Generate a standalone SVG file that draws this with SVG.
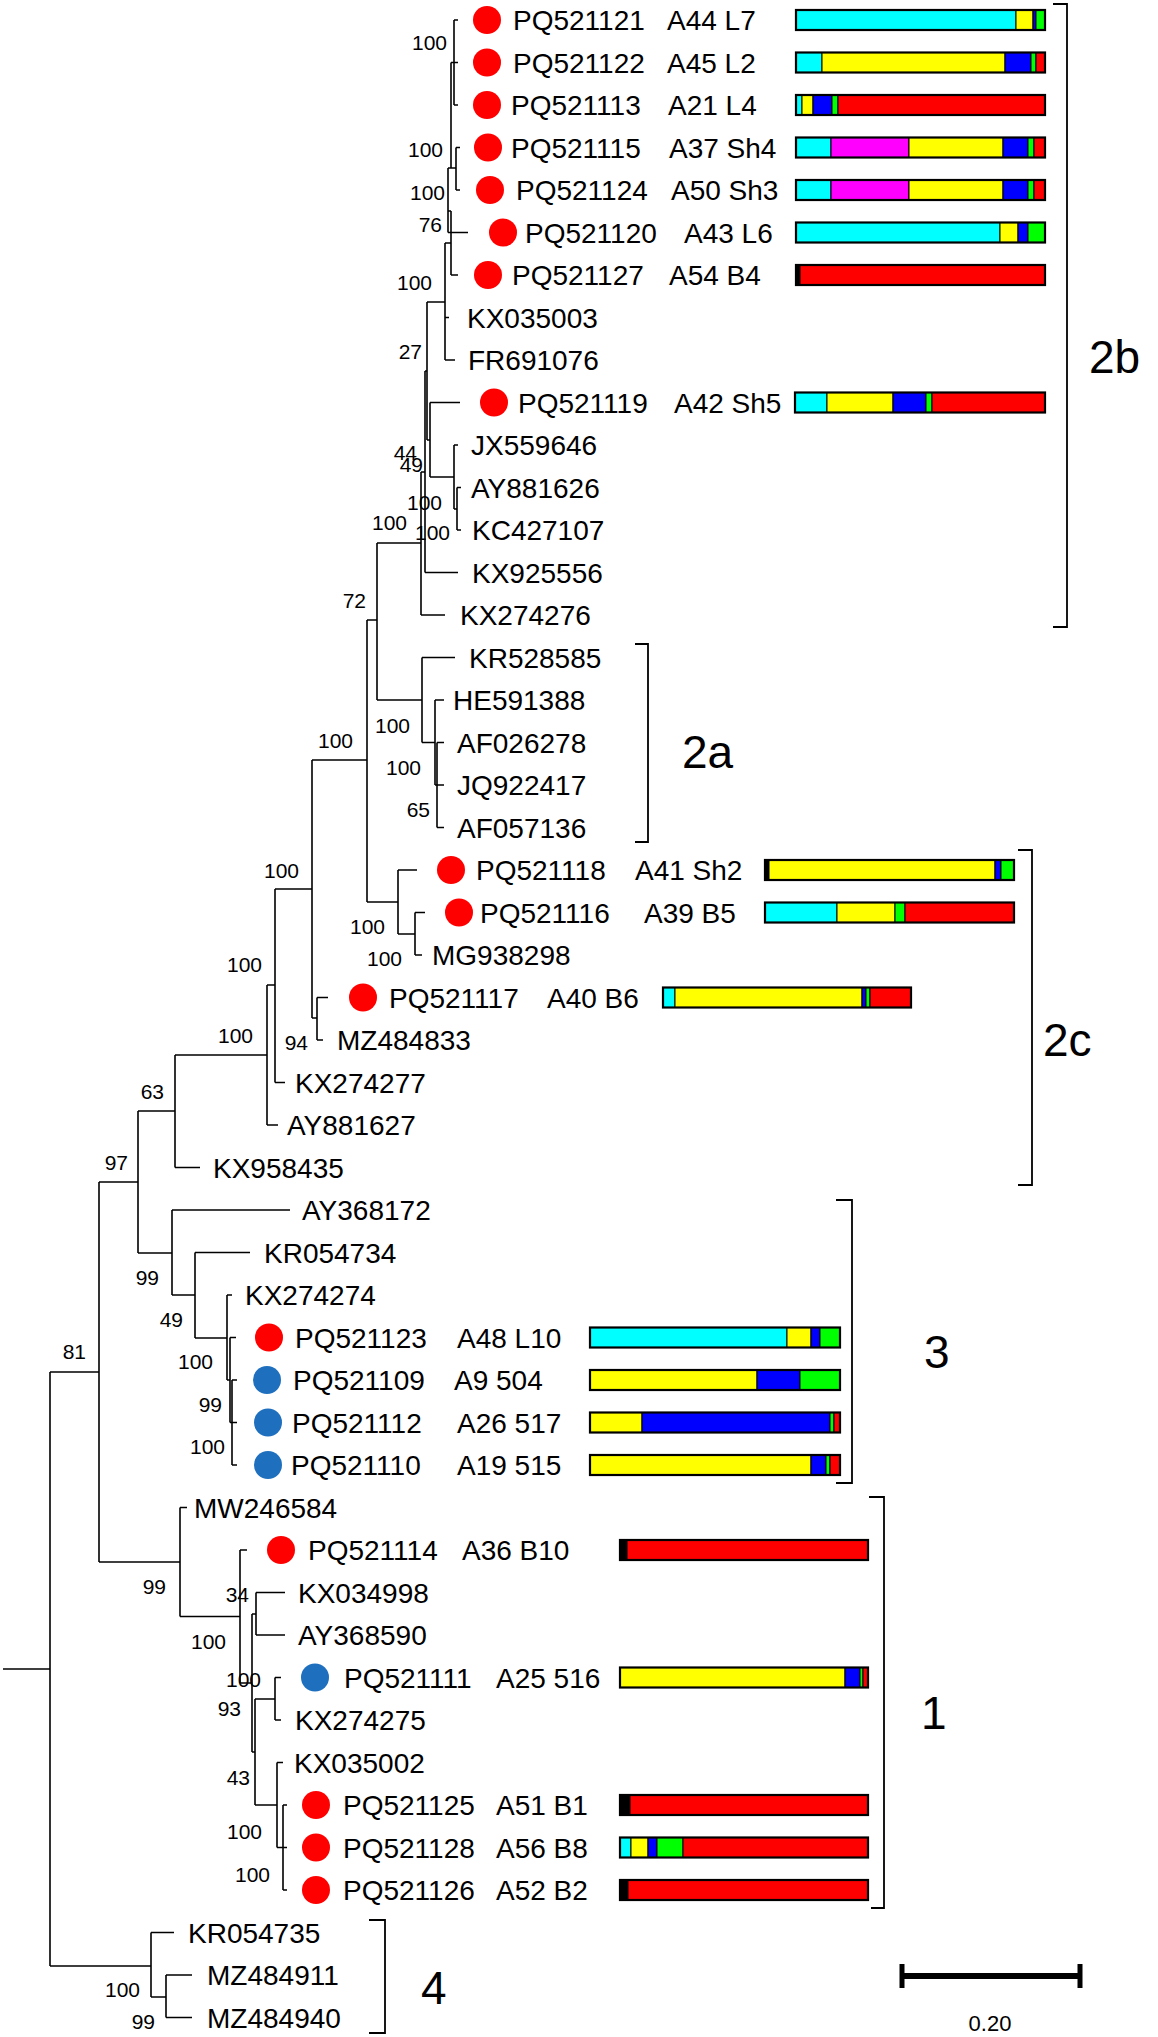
<svg xmlns="http://www.w3.org/2000/svg" width="1158" height="2037" viewBox="0 0 1158 2037">
<style>
text{font-family:"Liberation Sans",Arial,sans-serif;fill:#000}
.t{font-size:28px}
.s{font-size:21px;text-anchor:end}
.c{font-size:46px}
.sc{font-size:22px;text-anchor:middle}
.br{stroke:#000;stroke-width:1.6;fill:none}
.bk2{stroke:#000;stroke-width:1.8;fill:none}
.rdot{fill:#FF0000}
.bdot{fill:#1F6FBF}
.bar rect{stroke:#000;stroke-width:1}
.bar rect.out{fill:none;stroke-width:2.2}
.cy{fill:#00FFFF}.ye{fill:#FFFF00}.bl{fill:#0000FF}.gr{fill:#00FF00}.rd{fill:#FF0000}.mg{fill:#FF00FF}.bk{fill:#000}
</style>
<rect width="1158" height="2037" fill="#fff"/>
<g id="connectors" class="br">
<path d="M3 1669H50M50 1372V1966M50 1372H99M50 1966H151"/>
<path d="M99 1182V1562M99 1182H138M99 1562H180"/>
<path d="M138 1111V1253M138 1111H175M138 1253H172"/>
<path d="M175 1055V1167.5M175 1055H267M175 1167.5H200"/>
<path d="M267 985V1125M267 985H275M267 1125H278"/>
<path d="M275 889V1082.5M275 889H312M275 1082.5H285"/>
<path d="M312 760V1018M312 760H367M312 1018H317"/>
<path d="M317 997.5V1040M317 997.5H328M317 1040H323"/>
<path d="M367 620V902M367 620H377M367 902H398"/>
<path d="M398 870V934M398 870H417M398 934H415"/>
<path d="M415 912.5V955M415 912.5H425M415 955H422"/>
<path d="M377 543V700M377 543H421M377 700H422"/>
<path d="M422 657.5V742.5M422 657.5H455M422 742.5H435"/>
<path d="M435 700V785M435 700H444M435 785H437"/>
<path d="M437 742.5V827.5M437 742.5H444M437 785H444M437 827.5H444"/>
<path d="M421 472V615M421 472H425M421 615H445"/>
<path d="M425 371V572.5M425 371H427M425 572.5H458"/>
<path d="M427 302V440M427 302H445M427 440H430"/>
<path d="M430 402.5V477M430 402.5H460M430 477H454"/>
<path d="M454 445V509M454 445H458M454 509H457"/>
<path d="M457 487.5V530M457 487.5H461M457 530H461"/>
<path d="M445 243V360M445 243H451M445 317.5H449M445 360H455"/>
<path d="M451 211V275M448 211H451M451 275H458"/>
<path d="M448 168V232.5M448 168H456M448 232.5H468"/>
<path d="M456 147.5V190M456 147.5H460M456 190H460"/>
<path d="M451 62.5V168M451 62.5H454"/>
<path d="M454 20V105M454 20H458M454 62.5H458M454 105H458"/>
<path d="M172 1210V1295M172 1210H290M172 1295H195"/>
<path d="M195 1252.5V1338M195 1252.5H250M195 1338H227"/>
<path d="M227 1295V1380M227 1295H232M227 1380H230"/>
<path d="M230 1337.5V1422.5M230 1337.5H236M230 1422.5H232"/>
<path d="M232 1380V1465M232 1380H237M232 1422.5H237M232 1465H237"/>
<path d="M180 1507.5V1616.5M180 1507.5H187M180 1616.5H240"/>
<path d="M240 1550V1683M240 1550H247M240 1683H252"/>
<path d="M252 1614V1752M252 1614H256M252 1752H255"/>
<path d="M256 1592.5V1635M256 1592.5H285M256 1635H285"/>
<path d="M255 1699V1805M255 1699H275M255 1805H277"/>
<path d="M275 1677.5V1720M275 1677.5H281M275 1720H281"/>
<path d="M277 1762.5V1847.5M277 1762.5H283M277 1847.5H283"/>
<path d="M283 1805V1890M283 1805H287M283 1847.5H287M283 1890H287"/>
<path d="M151 1932.5V1997M151 1932.5H174M151 1997H166"/>
<path d="M166 1975V2017.5M166 1975H192M166 2017.5H192"/>
</g>
<g id="support-values">
<text class="s" x="447" y="50">100</text>
<text class="s" x="443" y="157">100</text>
<text class="s" x="445" y="200">100</text>
<text class="s" x="442" y="232">76</text>
<text class="s" x="432" y="290">100</text>
<text class="s" x="422" y="359">27</text>
<text class="s" x="417" y="460">44</text>
<text class="s" x="423" y="472">49</text>
<text class="s" x="442" y="510">100</text>
<text class="s" x="407" y="530">100</text>
<text class="s" x="450" y="540">100</text>
<text class="s" x="366" y="608">72</text>
<text class="s" x="410" y="733">100</text>
<text class="s" x="421" y="775">100</text>
<text class="s" x="430" y="817">65</text>
<text class="s" x="353" y="748">100</text>
<text class="s" x="385" y="934">100</text>
<text class="s" x="402" y="966">100</text>
<text class="s" x="299" y="878">100</text>
<text class="s" x="308" y="1050">94</text>
<text class="s" x="262" y="972">100</text>
<text class="s" x="253" y="1043">100</text>
<text class="s" x="164" y="1099">63</text>
<text class="s" x="128" y="1170">97</text>
<text class="s" x="159" y="1285">99</text>
<text class="s" x="183" y="1327">49</text>
<text class="s" x="213" y="1369">100</text>
<text class="s" x="222" y="1412">99</text>
<text class="s" x="225" y="1454">100</text>
<text class="s" x="86" y="1359">81</text>
<text class="s" x="166" y="1594">99</text>
<text class="s" x="249" y="1602">34</text>
<text class="s" x="226" y="1649">100</text>
<text class="s" x="261" y="1687">100</text>
<text class="s" x="241" y="1716">93</text>
<text class="s" x="250" y="1785">43</text>
<text class="s" x="262" y="1839">100</text>
<text class="s" x="270" y="1882">100</text>
<text class="s" x="140" y="1997">100</text>
<text class="s" x="155" y="2029">99</text>
</g>
<g id="tip-PQ521121"><circle class="rdot" cx="487" cy="20" r="14"/><text class="t" x="513" y="30">PQ521121</text><text class="t" x="667" y="30">A44 L7</text>
<g class="bar"><rect class="cy" x="796" y="10" width="220" height="20"/><rect class="ye" x="1016" y="10" width="17" height="20"/><rect class="bl" x="1033" y="10" width="3" height="20"/><rect class="gr" x="1036" y="10" width="9" height="20"/><rect class="out" x="796" y="10" width="249" height="20"/></g></g>
<g id="tip-PQ521122"><circle class="rdot" cx="487" cy="62.5" r="14"/><text class="t" x="513" y="72.5">PQ521122</text><text class="t" x="667" y="72.5">A45 L2</text>
<g class="bar"><rect class="cy" x="796" y="52.5" width="26" height="20"/><rect class="ye" x="822" y="52.5" width="183" height="20"/><rect class="bl" x="1005" y="52.5" width="26" height="20"/><rect class="gr" x="1031" y="52.5" width="5" height="20"/><rect class="rd" x="1036" y="52.5" width="9" height="20"/><rect class="out" x="796" y="52.5" width="249" height="20"/></g></g>
<g id="tip-PQ521113"><circle class="rdot" cx="487" cy="105" r="14"/><text class="t" x="511" y="115">PQ521113</text><text class="t" x="668" y="115">A21 L4</text>
<g class="bar"><rect class="cy" x="796" y="95" width="6" height="20"/><rect class="ye" x="802" y="95" width="11" height="20"/><rect class="bl" x="813" y="95" width="19" height="20"/><rect class="gr" x="832" y="95" width="6" height="20"/><rect class="rd" x="838" y="95" width="207" height="20"/><rect class="out" x="796" y="95" width="249" height="20"/></g></g>
<g id="tip-PQ521115"><circle class="rdot" cx="488" cy="147.5" r="14"/><text class="t" x="511" y="157.5">PQ521115</text><text class="t" x="669" y="157.5">A37 Sh4</text>
<g class="bar"><rect class="cy" x="796" y="137.5" width="35" height="20"/><rect class="mg" x="831" y="137.5" width="78" height="20"/><rect class="ye" x="909" y="137.5" width="94" height="20"/><rect class="bl" x="1003" y="137.5" width="25" height="20"/><rect class="gr" x="1028" y="137.5" width="6" height="20"/><rect class="rd" x="1034" y="137.5" width="11" height="20"/><rect class="out" x="796" y="137.5" width="249" height="20"/></g></g>
<g id="tip-PQ521124"><circle class="rdot" cx="490" cy="190" r="14"/><text class="t" x="516" y="200">PQ521124</text><text class="t" x="671" y="200">A50 Sh3</text>
<g class="bar"><rect class="cy" x="796" y="180" width="35" height="20"/><rect class="mg" x="831" y="180" width="78" height="20"/><rect class="ye" x="909" y="180" width="94" height="20"/><rect class="bl" x="1003" y="180" width="25" height="20"/><rect class="gr" x="1028" y="180" width="6" height="20"/><rect class="rd" x="1034" y="180" width="11" height="20"/><rect class="out" x="796" y="180" width="249" height="20"/></g></g>
<g id="tip-PQ521120"><circle class="rdot" cx="503" cy="232.5" r="14"/><text class="t" x="525" y="242.5">PQ521120</text><text class="t" x="684" y="242.5">A43 L6</text>
<g class="bar"><rect class="cy" x="796" y="222.5" width="204" height="20"/><rect class="ye" x="1000" y="222.5" width="18" height="20"/><rect class="bl" x="1018" y="222.5" width="10" height="20"/><rect class="gr" x="1028" y="222.5" width="17" height="20"/><rect class="out" x="796" y="222.5" width="249" height="20"/></g></g>
<g id="tip-PQ521127"><circle class="rdot" cx="488" cy="275" r="14"/><text class="t" x="512" y="285">PQ521127</text><text class="t" x="669" y="285">A54 B4</text>
<g class="bar"><rect class="bk" x="796" y="265" width="4" height="20"/><rect class="rd" x="800" y="265" width="245" height="20"/><rect class="out" x="796" y="265" width="249" height="20"/></g></g>
<g id="tip-KX035003"><text class="t" x="467" y="327.5">KX035003</text></g>
<g id="tip-FR691076"><text class="t" x="468" y="370">FR691076</text></g>
<g id="tip-PQ521119"><circle class="rdot" cx="494" cy="402.5" r="14"/><text class="t" x="518" y="412.5">PQ521119</text><text class="t" x="674" y="412.5">A42 Sh5</text>
<g class="bar"><rect class="cy" x="795" y="392.5" width="32" height="20"/><rect class="ye" x="827" y="392.5" width="66" height="20"/><rect class="bl" x="893" y="392.5" width="33" height="20"/><rect class="gr" x="926" y="392.5" width="6" height="20"/><rect class="rd" x="932" y="392.5" width="113" height="20"/><rect class="out" x="795" y="392.5" width="250" height="20"/></g></g>
<g id="tip-JX559646"><text class="t" x="471" y="455">JX559646</text></g>
<g id="tip-AY881626"><text class="t" x="471" y="497.5">AY881626</text></g>
<g id="tip-KC427107"><text class="t" x="472" y="540">KC427107</text></g>
<g id="tip-KX925556"><text class="t" x="472" y="582.5">KX925556</text></g>
<g id="tip-KX274276"><text class="t" x="460" y="625">KX274276</text></g>
<g id="tip-KR528585"><text class="t" x="469" y="667.5">KR528585</text></g>
<g id="tip-HE591388"><text class="t" x="453" y="710">HE591388</text></g>
<g id="tip-AF026278"><text class="t" x="457" y="752.5">AF026278</text></g>
<g id="tip-JQ922417"><text class="t" x="457" y="795">JQ922417</text></g>
<g id="tip-AF057136"><text class="t" x="457" y="837.5">AF057136</text></g>
<g id="tip-PQ521118"><circle class="rdot" cx="451" cy="870" r="14"/><text class="t" x="476" y="880">PQ521118</text><text class="t" x="635" y="880">A41 Sh2</text>
<g class="bar"><rect class="bk" x="765" y="860" width="4" height="20"/><rect class="ye" x="769" y="860" width="226" height="20"/><rect class="bl" x="995" y="860" width="6" height="20"/><rect class="gr" x="1001" y="860" width="13" height="20"/><rect class="out" x="765" y="860" width="249" height="20"/></g></g>
<g id="tip-PQ521116"><circle class="rdot" cx="459" cy="912.5" r="14"/><text class="t" x="480" y="922.5">PQ521116</text><text class="t" x="644" y="922.5">A39 B5</text>
<g class="bar"><rect class="cy" x="765" y="902.5" width="72" height="20"/><rect class="ye" x="837" y="902.5" width="58" height="20"/><rect class="gr" x="895" y="902.5" width="10" height="20"/><rect class="rd" x="905" y="902.5" width="109" height="20"/><rect class="out" x="765" y="902.5" width="249" height="20"/></g></g>
<g id="tip-MG938298"><text class="t" x="432" y="965">MG938298</text></g>
<g id="tip-PQ521117"><circle class="rdot" cx="363" cy="997.5" r="14"/><text class="t" x="389" y="1007.5">PQ521117</text><text class="t" x="547" y="1007.5">A40 B6</text>
<g class="bar"><rect class="cy" x="663" y="987.5" width="12" height="20"/><rect class="ye" x="675" y="987.5" width="187" height="20"/><rect class="bl" x="862" y="987.5" width="4" height="20"/><rect class="gr" x="866" y="987.5" width="4" height="20"/><rect class="rd" x="870" y="987.5" width="41" height="20"/><rect class="out" x="663" y="987.5" width="248" height="20"/></g></g>
<g id="tip-MZ484833"><text class="t" x="337" y="1050">MZ484833</text></g>
<g id="tip-KX274277"><text class="t" x="295" y="1092.5">KX274277</text></g>
<g id="tip-AY881627"><text class="t" x="287" y="1135">AY881627</text></g>
<g id="tip-KX958435"><text class="t" x="213" y="1177.5">KX958435</text></g>
<g id="tip-AY368172"><text class="t" x="302" y="1220">AY368172</text></g>
<g id="tip-KR054734"><text class="t" x="264" y="1262.5">KR054734</text></g>
<g id="tip-KX274274"><text class="t" x="245" y="1305">KX274274</text></g>
<g id="tip-PQ521123"><circle class="rdot" cx="269" cy="1337.5" r="14"/><text class="t" x="295" y="1347.5">PQ521123</text><text class="t" x="457" y="1347.5">A48 L10</text>
<g class="bar"><rect class="cy" x="590" y="1327.5" width="197" height="20"/><rect class="ye" x="787" y="1327.5" width="24" height="20"/><rect class="bl" x="811" y="1327.5" width="9" height="20"/><rect class="gr" x="820" y="1327.5" width="20" height="20"/><rect class="out" x="590" y="1327.5" width="250" height="20"/></g></g>
<g id="tip-PQ521109"><circle class="bdot" cx="267" cy="1380" r="14"/><text class="t" x="293" y="1390">PQ521109</text><text class="t" x="454" y="1390">A9 504</text>
<g class="bar"><rect class="ye" x="590" y="1370" width="167" height="20"/><rect class="bl" x="757" y="1370" width="43" height="20"/><rect class="gr" x="800" y="1370" width="40" height="20"/><rect class="out" x="590" y="1370" width="250" height="20"/></g></g>
<g id="tip-PQ521112"><circle class="bdot" cx="268" cy="1422.5" r="14"/><text class="t" x="292" y="1432.5">PQ521112</text><text class="t" x="457" y="1432.5">A26 517</text>
<g class="bar"><rect class="ye" x="590" y="1412.5" width="52" height="20"/><rect class="bl" x="642" y="1412.5" width="188" height="20"/><rect class="gr" x="830" y="1412.5" width="4" height="20"/><rect class="rd" x="834" y="1412.5" width="6" height="20"/><rect class="out" x="590" y="1412.5" width="250" height="20"/></g></g>
<g id="tip-PQ521110"><circle class="bdot" cx="268" cy="1465" r="14"/><text class="t" x="291" y="1475">PQ521110</text><text class="t" x="457" y="1475">A19 515</text>
<g class="bar"><rect class="ye" x="590" y="1455" width="221" height="20"/><rect class="bl" x="811" y="1455" width="15" height="20"/><rect class="gr" x="826" y="1455" width="4" height="20"/><rect class="rd" x="830" y="1455" width="10" height="20"/><rect class="out" x="590" y="1455" width="250" height="20"/></g></g>
<g id="tip-MW246584"><text class="t" x="194" y="1517.5">MW246584</text></g>
<g id="tip-PQ521114"><circle class="rdot" cx="281" cy="1550" r="14"/><text class="t" x="308" y="1560">PQ521114</text><text class="t" x="462" y="1560">A36 B10</text>
<g class="bar"><rect class="bk" x="620" y="1540" width="7" height="20"/><rect class="rd" x="627" y="1540" width="241" height="20"/><rect class="out" x="620" y="1540" width="248" height="20"/></g></g>
<g id="tip-KX034998"><text class="t" x="298" y="1602.5">KX034998</text></g>
<g id="tip-AY368590"><text class="t" x="298" y="1645">AY368590</text></g>
<g id="tip-PQ521111"><circle class="bdot" cx="315" cy="1677.5" r="14"/><text class="t" x="344" y="1687.5">PQ521111</text><text class="t" x="496" y="1687.5">A25 516</text>
<g class="bar"><rect class="ye" x="620" y="1667.5" width="225" height="20"/><rect class="bl" x="845" y="1667.5" width="15" height="20"/><rect class="gr" x="860" y="1667.5" width="3" height="20"/><rect class="rd" x="863" y="1667.5" width="5" height="20"/><rect class="out" x="620" y="1667.5" width="248" height="20"/></g></g>
<g id="tip-KX274275"><text class="t" x="295" y="1730">KX274275</text></g>
<g id="tip-KX035002"><text class="t" x="294" y="1772.5">KX035002</text></g>
<g id="tip-PQ521125"><circle class="rdot" cx="316" cy="1805" r="14"/><text class="t" x="343" y="1815">PQ521125</text><text class="t" x="496" y="1815">A51 B1</text>
<g class="bar"><rect class="bk" x="620" y="1795" width="10" height="20"/><rect class="rd" x="630" y="1795" width="238" height="20"/><rect class="out" x="620" y="1795" width="248" height="20"/></g></g>
<g id="tip-PQ521128"><circle class="rdot" cx="316" cy="1847.5" r="14"/><text class="t" x="343" y="1857.5">PQ521128</text><text class="t" x="496" y="1857.5">A56 B8</text>
<g class="bar"><rect class="cy" x="620" y="1837.5" width="11" height="20"/><rect class="ye" x="631" y="1837.5" width="17" height="20"/><rect class="bl" x="648" y="1837.5" width="9" height="20"/><rect class="gr" x="657" y="1837.5" width="26" height="20"/><rect class="rd" x="683" y="1837.5" width="185" height="20"/><rect class="out" x="620" y="1837.5" width="248" height="20"/></g></g>
<g id="tip-PQ521126"><circle class="rdot" cx="316" cy="1890" r="14"/><text class="t" x="343" y="1900">PQ521126</text><text class="t" x="496" y="1900">A52 B2</text>
<g class="bar"><rect class="bk" x="620" y="1880" width="8" height="20"/><rect class="rd" x="628" y="1880" width="240" height="20"/><rect class="out" x="620" y="1880" width="248" height="20"/></g></g>
<g id="tip-KR054735"><text class="t" x="188" y="1942.5">KR054735</text></g>
<g id="tip-MZ484911"><text class="t" x="207" y="1985">MZ484911</text></g>
<g id="tip-MZ484940"><text class="t" x="207" y="2027.5">MZ484940</text></g>
<g id="clade-2b"><path class="bk2" d="M1053 4H1067V627H1053"/><text class="c" x="1089" y="373">2b</text></g>
<g id="clade-2a"><path class="bk2" d="M635 644H648V842H635"/><text class="c" x="682" y="768">2a</text></g>
<g id="clade-2c"><path class="bk2" d="M1018 850H1032V1185H1018"/><text class="c" x="1043" y="1056">2c</text></g>
<g id="clade-3"><path class="bk2" d="M836 1200H852V1483H836"/><text class="c" x="924" y="1368">3</text></g>
<g id="clade-1"><path class="bk2" d="M869 1497H884V1908H871"/><text class="c" x="921" y="1729">1</text></g>
<g id="clade-4"><path class="bk2" d="M369 1920H385V2033H369"/><text class="c" x="421" y="2004">4</text></g>
<g id="scale-bar"><path d="M900 1976H1082" stroke="#000" stroke-width="6"/><path d="M902 1964V1988M1080 1964V1988" stroke="#000" stroke-width="5"/><text class="sc" x="990" y="2031">0.20</text></g>
</svg>
